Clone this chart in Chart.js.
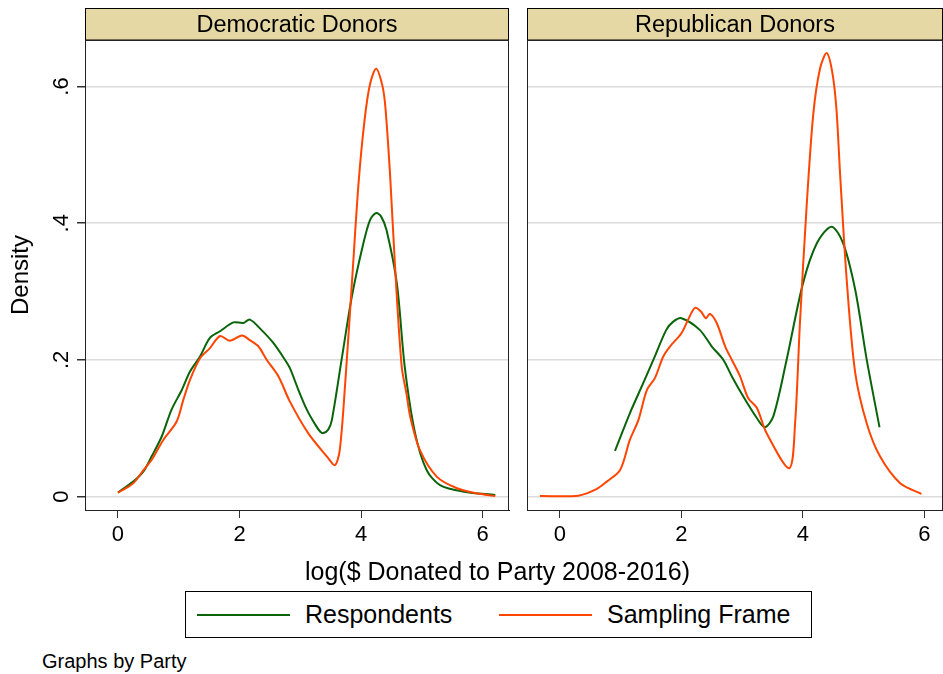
<!DOCTYPE html>
<html>
<head>
<meta charset="utf-8">
<script src="https://cdn.jsdelivr.net/npm/chart.js@4/dist/chart.umd.min.js"></script>
<style>
  html, body { margin: 0; padding: 0; background: #fff; }
  body { width: 943px; height: 674px; position: relative; overflow: hidden;
         font-family: "Liberation Sans", Arial, Helvetica, sans-serif; color: #000; }
  canvas { position: absolute; top: 0; }
  #xTitle { position: absolute; left: 0; top: 558px; width: 995px; text-align: center;
            font-size: 25px; line-height: 26px; white-space: nowrap; }
  #legend { position: absolute; left: 185px; top: 591px; width: 627px; height: 47px;
            border: 1px solid #000; box-sizing: border-box; }
  .swatch { position: absolute; top: 22px; height: 2px; width: 93px; }
  .ltext { position: absolute; top: 0; height: 45px; line-height: 45px; font-size: 25px; white-space: nowrap; }
  #note { position: absolute; left: 42px; top: 650px; font-size: 20px; line-height: 22px; white-space: nowrap; }
</style>
</head>
<body>
<canvas id="dem" width="515" height="580" style="left:0;width:515px;height:580px"></canvas>
<canvas id="rep" width="428" height="580" style="left:515px;width:428px;height:580px"></canvas>
<div id="xTitle">log($ Donated to Party 2008-2016)</div>
<div id="legend">
  <div class="swatch" style="left:11px;background:#0a640a"></div>
  <div class="ltext" style="left:119px">Respondents</div>
  <div class="swatch" style="left:313px;background:#ff4500"></div>
  <div class="ltext" style="left:421px">Sampling Frame</div>
</div>
<div id="note">Graphs by Party</div>
<script>
// Kernel density readings: log($ donated) against density
const demRespX  = [0.0, 0.25, 0.42, 0.555, 0.72, 0.88, 1.05, 1.185, 1.35, 1.51, 1.68, 1.90, 2.06, 2.17, 2.36, 2.56, 2.75, 2.83, 2.97, 3.11, 3.25, 3.33, 3.38, 3.46, 3.52, 3.68, 3.85, 4.04, 4.15, 4.25, 4.33, 4.42, 4.59, 4.72, 4.89, 5.08, 5.30, 5.69, 6.21];
const demRespY  = [0.006, 0.022, 0.037, 0.059, 0.088, 0.127, 0.156, 0.183, 0.205, 0.232, 0.242, 0.255, 0.254, 0.259, 0.244, 0.2245, 0.200, 0.188, 0.156, 0.127, 0.105, 0.095, 0.093, 0.098, 0.112, 0.200, 0.293, 0.371, 0.405, 0.415, 0.410, 0.390, 0.312, 0.190, 0.093, 0.039, 0.017, 0.0073, 0.0025];

const demFrameX = [0.0, 0.25, 0.42, 0.555, 0.745, 0.966, 1.075, 1.185, 1.35, 1.51, 1.68, 1.84, 2.04, 2.17, 2.31, 2.45, 2.64, 2.83, 3.13, 3.44, 3.57, 3.65, 3.74, 3.85, 3.96, 4.06, 4.15, 4.25, 4.35, 4.40, 4.48, 4.56, 4.67, 4.75, 4.81, 4.97, 5.25, 5.58, 5.90, 6.21];
const demFrameY = [0.006, 0.0196, 0.039, 0.054, 0.083, 0.110, 0.1416, 0.171, 0.2026, 0.217, 0.235, 0.228, 0.2357, 0.229, 0.220, 0.200, 0.176, 0.139, 0.093, 0.0586, 0.046, 0.068, 0.166, 0.312, 0.459, 0.552, 0.604, 0.626, 0.602, 0.571, 0.4685, 0.337, 0.190, 0.150, 0.117, 0.068, 0.029, 0.0123, 0.005, 0.001];

const repRespX  = [0.905, 1.15, 1.37, 1.56, 1.75, 1.865, 2.0, 2.30, 2.50, 2.69, 2.83, 3.02, 3.24, 3.37, 3.51, 3.73, 4.0, 4.23, 4.47, 4.66, 4.86, 5.05, 5.26];
const repRespY  = [0.067, 0.122, 0.166, 0.205, 0.244, 0.256, 0.261, 0.244, 0.2196, 0.200, 0.1757, 0.146, 0.115, 0.1015, 0.117, 0.200, 0.312, 0.371, 0.395, 0.371, 0.3026, 0.200, 0.1016];

const repFrameX = [-0.33, 0.30, 0.60, 0.77, 0.99, 1.15, 1.29, 1.43, 1.56, 1.70, 1.81, 2.0, 2.11, 2.22, 2.32, 2.40, 2.47, 2.58, 2.72, 2.83, 2.96, 3.10, 3.24, 3.40, 3.775, 3.87, 3.95, 4.06, 4.17, 4.28, 4.39, 4.48, 4.55, 4.61, 4.72, 4.86, 5.05, 5.27, 5.60, 5.95];
const repFrameY = [0.001, 0.0015, 0.011, 0.022, 0.039, 0.083, 0.112, 0.156, 0.173, 0.205, 0.2196, 0.239, 0.259, 0.276, 0.271, 0.261, 0.2675, 0.254, 0.2196, 0.200, 0.177, 0.144, 0.130, 0.093, 0.0416, 0.107, 0.254, 0.4246, 0.560, 0.626, 0.649, 0.622, 0.568, 0.4735, 0.317, 0.181, 0.107, 0.0586, 0.0196, 0.004];

const panelTitles = ["Democratic Donors", "Republican Donors"];
const seriesNames = ["Respondents", "Sampling Frame"];
const xTickValues = [0, 2, 4, 6];
const xTickLabels = ["0", "2", "4", "6"];
const yTickValues = [0, 0.2, 0.4, 0.6];
const yTickLabels = ["0", ".2", ".4", ".6"];

const GREEN = "#0a640a";
const ORANGE = "#ff4500";
const STRIP = "rgb(229,216,164)";
const FONT = '"Liberation Sans", Arial, Helvetica, sans-serif';

const toPoints = (xs, ys) => xs.map((x, i) => ({ x: x, y: ys[i] }));

// Strip header above the plot region, plot frame, and rotated y tick labels
const panelDecor = {
  id: "panelDecor",
  beforeDraw(chart, args, opts) {
    const { ctx, chartArea: a } = chart;
    ctx.save();
    ctx.fillStyle = STRIP;
    ctx.fillRect(a.left, 8.5, a.right - a.left, a.top - 8.5);
    ctx.strokeStyle = "#000";
    ctx.lineWidth = 1;
    ctx.strokeRect(a.left + 0.5, 8.5, a.right - a.left - 1, a.top - 8.5);
    ctx.fillStyle = "#000";
    ctx.font = "23.5px " + FONT;
    ctx.textAlign = "center";
    ctx.textBaseline = "alphabetic";
    ctx.fillText(opts.title, (a.left + a.right) / 2, 31.5);
    ctx.restore();
  },
  afterDraw(chart, args, opts) {
    const { ctx, chartArea: a } = chart;
    ctx.save();
    ctx.strokeStyle = "#222";
    ctx.lineWidth = 1;
    ctx.strokeRect(a.left + 0.5, a.top + 0.5, a.right - a.left - 1, a.bottom - a.top);
    if (opts.yLabels) {
      const ys = chart.scales.y;
      ctx.fillStyle = "#000";
      ctx.font = "22px " + FONT;
      ctx.textAlign = "center";
      ctx.textBaseline = "alphabetic";
      yTickValues.forEach((v, i) => {
        const py = ys.getPixelForValue(v);
        ctx.save();
        ctx.translate(68, py);
        ctx.rotate(-Math.PI / 2);
        ctx.fillText(yTickLabels[i], 0, 0);
        ctx.restore();
      });
    }
    ctx.restore();
  }
};

function makePanel(id, title, resp, frame, isLeft) {
  const ctx = document.getElementById(id);
  return new Chart(ctx, {
    type: "line",
    data: {
      datasets: [
        { label: seriesNames[0], data: resp, borderColor: GREEN, borderWidth: 2,
          pointRadius: 0, fill: false, tension: 0.3, order: 1 },
        { label: seriesNames[1], data: frame, borderColor: ORANGE, borderWidth: 2,
          pointRadius: 0, fill: false, tension: 0.3, order: 0 }
      ]
    },
    options: {
      responsive: false,
      animation: false,
      devicePixelRatio: 1,
      events: [],
      layout: { padding: { top: 40, right: isLeft ? 6 : 0, left: 0, bottom: 0 } },
      plugins: {
        legend: { display: false },
        tooltip: { enabled: false },
        panelDecor: { title: title, yLabels: isLeft }
      },
      scales: {
        x: {
          type: "linear",
          min: -0.543,
          max: isLeft ? 6.436 : 6.305,
          afterBuildTicks: (s) => { s.ticks = xTickValues.map(v => ({ value: v })); },
          afterFit: (s) => { s.height = 70; },
          ticks: {
            callback: (v) => xTickLabels[xTickValues.indexOf(v)],
            font: { size: 22, family: FONT },
            color: "#000",
            padding: 4,
            maxRotation: 0,
            autoSkip: false
          },
          grid: { display: true, drawOnChartArea: false, drawTicks: true, tickLength: 8,
                  color: "#333", tickColor: "#333", lineWidth: 1 },
          border: { display: true, color: "#000", width: 1 }
        },
        y: {
          type: "linear",
          min: -0.0195,
          max: 0.668,
          afterBuildTicks: (s) => { s.ticks = yTickValues.map(v => ({ value: v })); },
          afterFit: (s) => { s.width = isLeft ? 85 : 12; },
          ticks: { display: false },
          grid: { display: true, drawOnChartArea: true, drawTicks: isLeft, tickLength: 8,
                  color: "#dcdcdc", tickColor: "#333", lineWidth: 1.5 },
          border: { display: true, color: "#000", width: 1 },
          title: {
            display: isLeft,
            text: "Density",
            font: { size: 24, family: FONT },
            color: "#000",
            padding: { top: 7, bottom: 0 }
          }
        }
      }
    },
    plugins: [panelDecor]
  });
}

makePanel("dem", panelTitles[0], toPoints(demRespX, demRespY), toPoints(demFrameX, demFrameY), true);
makePanel("rep", panelTitles[1], toPoints(repRespX, repRespY), toPoints(repFrameX, repFrameY), false);
</script>
</body>
</html>
